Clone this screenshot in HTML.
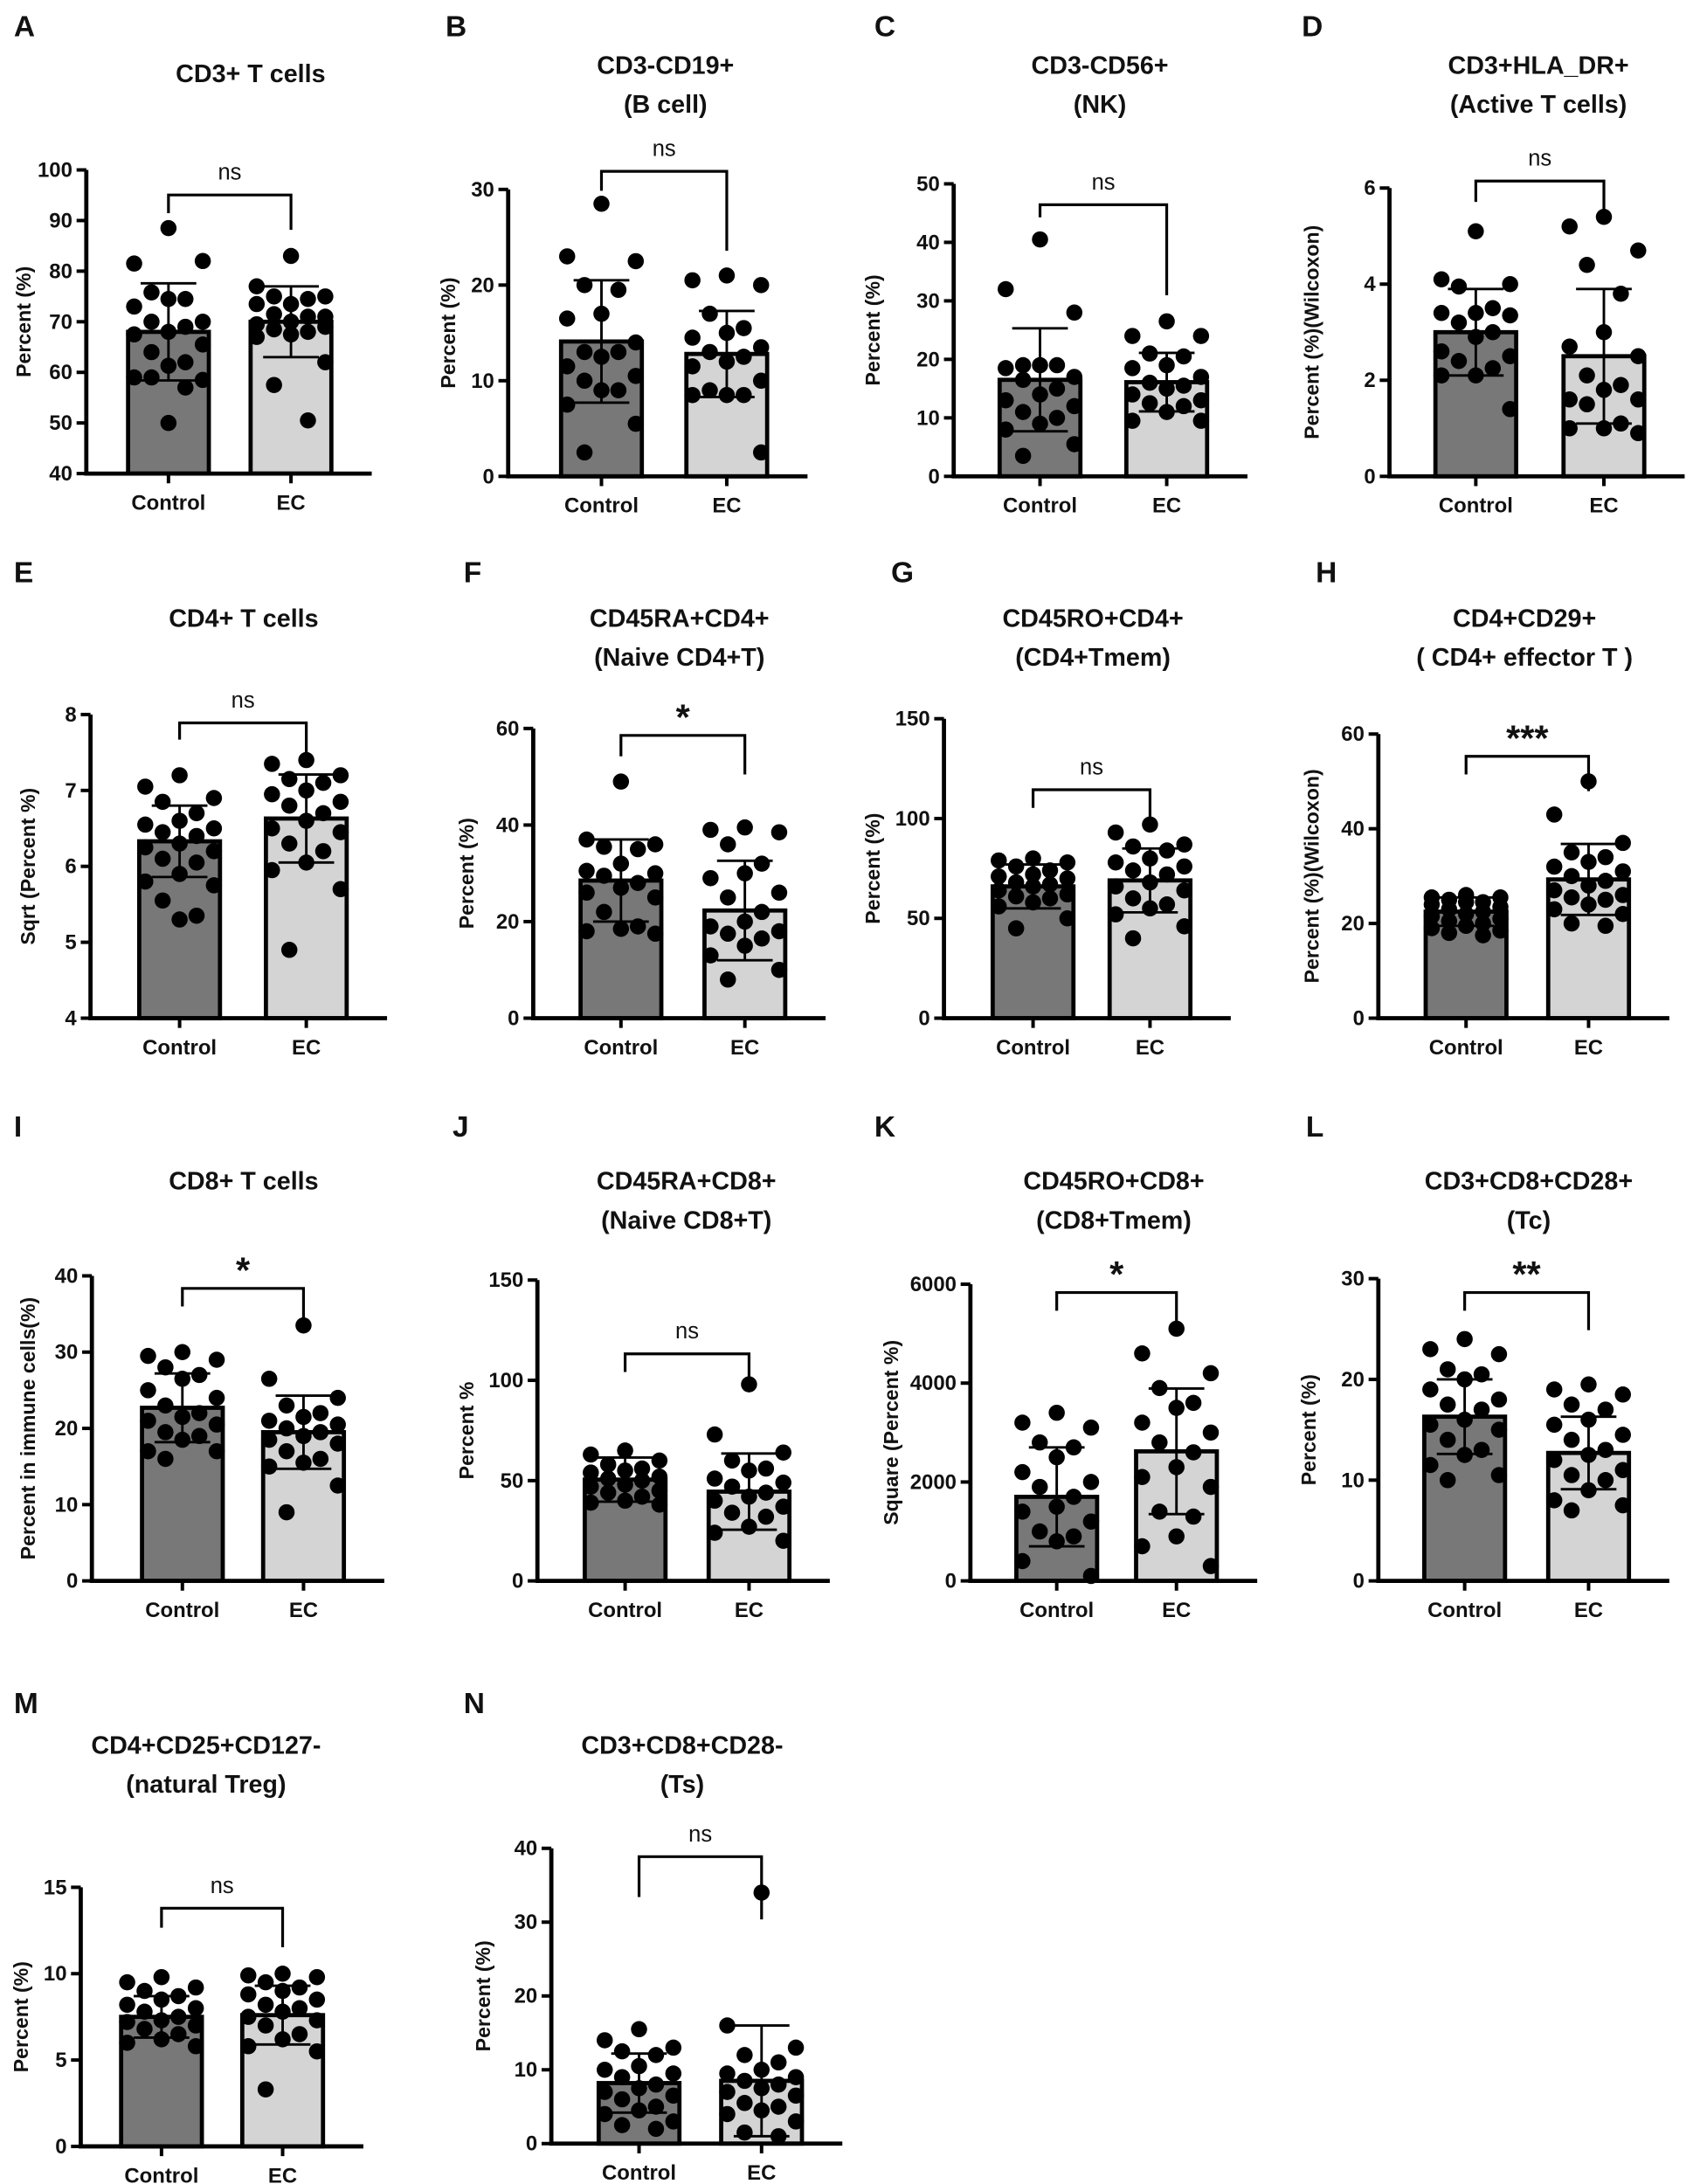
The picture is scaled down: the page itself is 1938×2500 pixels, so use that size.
<!DOCTYPE html>
<html><head><meta charset="utf-8"><style>
html,body{margin:0;padding:0;background:#fff}
svg{display:block}
text{font-family:"Liberation Sans",Arial,sans-serif;font-weight:bold;fill:#111}
</style></head><body>
<svg id="fig" xmlns="http://www.w3.org/2000/svg" width="1938" height="2500" viewBox="0 0 1216 1568" preserveAspectRatio="none"></svg>
<script>
const categories = ["Control","EC"];
// Panel A
const A_ticks=[40,50,60,70,80,90,100]; const A_means=[68,70]; const A_sds=[9.6,7];
const A_ctrl=[88.5,81.5,82,75.8,74.5,74.5,73,70,70,69,68,67.5,65.5,64,62,61.3,59,58.5,59,57,50];
const A_ec=[83,77,75,75,74.5,73.5,73.5,71,71.5,71,70,69.5,69,68.5,68,67.5,67,62,57.5,50.5];
// Panel B
const B_ticks=[0,10,20,30]; const B_means=[14.1,12.8]; const B_sds=[6.4,4.5];
const B_ctrl=[28.5,23,22.5,20,19.5,17,16.5,14,13,13,12.5,11.5,10.5,10,9,9,7.5,5.5,2.5];
const B_ec=[21,20.5,20,17,15.5,15,14.5,13.5,13,12.5,12,11.5,10,9,8.5,8.5,8.5,2.5];
// Panel C
const C_ticks=[0,10,20,30,40,50]; const C_means=[16.5,16.1]; const C_sds=[8.8,5];
const C_ctrl=[40.5,32,28,19,19,19,18.5,17,16.5,15,14,13,12,11,10,9,8,5.5,3.5];
const C_ec=[26.5,24,24,21,20.5,19,18.5,17,16,15.5,15,14,13,12.5,12,11,9.5,9.5];
// Panel D
const D_ticks=[0,2,4,6]; const D_means=[3.0,2.5]; const D_sds=[0.9,1.4];
const D_ctrl=[5.1,4.1,4.0,3.95,3.5,3.4,3.4,3.35,3.2,3.0,2.9,2.6,2.5,2.4,2.25,2.1,2.1,1.4];
const D_ec=[5.4,5.2,4.7,4.4,3.8,3.0,2.7,2.5,2.1,1.9,1.8,1.6,1.6,1.5,1.1,1.0,1.0,0.9];
// Panel E
const E_ticks=[4,5,6,7,8]; const E_means=[6.33,6.63]; const E_sds=[0.47,0.58];
const E_ctrl=[7.2,7.05,6.9,6.85,6.7,6.6,6.55,6.5,6.45,6.4,6.3,6.25,6.2,6.1,6.05,5.9,5.8,5.75,5.55,5.35,5.3];
const E_ec=[7.4,7.35,7.2,7.15,7.1,7.0,6.95,6.85,6.8,6.7,6.6,6.5,6.45,6.3,6.2,6.05,5.95,5.7,4.9];
// Panel F
const F_ticks=[0,20,40,60]; const F_means=[28.5,22.3]; const F_sds=[8.5,10.3];
const F_ctrl=[49,37,36,35.5,35,32,30.5,30,29.5,28,27,26,25,22,19,18.5,18,17.5];
const F_ec=[39.5,39,38.5,36,32,30,29,26,25,22,20,19,18,17.5,16.5,15,13,10,8];
// Panel G
const G_ticks=[0,50,100,150]; const G_means=[66,69]; const G_sds=[11,16];
const G_ctrl=[80,79,78,76,74,72,71,70,68,67,66,64,62,61,60,58,56,50,45];
const G_ec=[97,93,87,86,84,80,78,76,74,72,68,66,64,60,57,55,52,46,40];
// Panel H
const H_ticks=[0,20,40,60]; const H_means=[22.5,29.3]; const H_sds=[3,7.5];
const H_ctrl=[26,25.5,25.5,25,24.5,24.5,24,23.5,23,22.5,22,21.5,21,20.5,20,19.5,19,18.5,18,17.5];
const H_ec=[50,43,37,35,34,33,32,31,30,29,28,27,26,25.5,25,24,23,22,20,19.5];
// Panel I
const I_ticks=[0,10,20,30,40]; const I_means=[22.7,19.5]; const I_sds=[4.5,4.8];
const I_ctrl=[30,29.5,29,28,27,26.5,25,24,23,22,21.5,21,20.5,19.5,19,18.5,17,17,16];
const I_ec=[33.5,26.5,24,23,22,21.5,21,20.5,20,19.5,19,18.5,18,17,16,15.5,15,12.5,9];
// Panel J
const J_ticks=[0,50,100,150]; const J_means=[50.5,44.5]; const J_sds=[11,19];
const J_ctrl=[65,63,60,58,56,55,54,52,51,50,48,47,45,44,42,40,39,38];
const J_ec=[98,73,64,60,56,55,51,49,47,44,42,40,37,34,32,27,24,20];
// Panel K
const K_ticks=[0,2000,4000,6000]; const K_means=[1700,2620]; const K_sds=[1000,1270];
const K_ctrl=[3400,3200,3100,2800,2700,2500,2200,2000,1900,1700,1500,1400,1200,1000,900,800,400,100];
const K_ec=[5100,4600,4200,3900,3600,3500,3200,3000,2800,2600,2300,2100,1900,1400,1300,900,700,300];
// Panel L
const L_ticks=[0,10,20,30]; const L_means=[16.3,12.7]; const L_sds=[3.7,3.6];
const L_ctrl=[24,23,22.5,21,20.5,20,19,18,17.5,17,16,15.5,15,14,13,12.5,11.5,10.5,10];
const L_ec=[19.5,19,18.5,17.5,17,16,15.5,14.5,14,13,12.5,12,11,10.5,10,9,8,7.5,7];
// Panel M
const M_ticks=[0,5,10,15]; const M_means=[7.5,7.6]; const M_sds=[1.2,1.7];
const M_ctrl=[9.8,9.5,9.2,9.0,8.7,8.5,8.2,8.0,7.8,7.5,7.3,7.2,7.0,6.8,6.5,6.2,6.0,5.8];
const M_ec=[10,9.9,9.8,9.5,9.2,9,8.8,8.5,8.2,8,7.8,7.5,7.3,7,6.5,6.2,5.8,5.5,3.3];
// Panel N
const N_ticks=[0,10,20,30,40]; const N_means=[8.2,8.5]; const N_sds=[4,7.5];
const N_ctrl=[15.5,14,13,12.5,12,10.5,10,9.5,9,8,7.5,7,6.5,6,5,4.5,4,3,2.5,2];
const N_ec=[34,16,13,12,11,10,9.5,9,8.5,8,7.5,7,6.5,5.5,5,4.5,4,3,1.5,1];

const NS="http://www.w3.org/2000/svg";
const svg=document.getElementById('fig');
function mk(tag,attrs,parent,txt){const e=document.createElementNS(NS,tag);for(const k in attrs)e.setAttribute(k,attrs[k]);if(txt!==undefined)e.textContent=txt;(parent||svg).appendChild(e);return e;}

const panels=[
 {id:'A',t:A_ticks,m:A_means,s:A_sds,p:[A_ctrl,A_ec],title:['CD3+ T cells'],yt:'Percent (%)',ax:62,c0:121,c1:209,top:122,bot:340,lx:10,ly:18,tx:180,ty:52,sig:'ns',by:140,bl:153,br:165,ytx:22},
 {id:'B',t:B_ticks,m:B_means,s:B_sds,p:[B_ctrl,B_ec],title:['CD3-CD19+','(B cell)'],yt:'Percent (%)',ax:365,c0:432,c1:522,top:136,bot:342,lx:320,ly:18,tx:478,ty:46,sig:'ns',by:123,bl:137,br:180,ytx:327},
 {id:'C',t:C_ticks,m:C_means,s:C_sds,p:[C_ctrl,C_ec],title:['CD3-CD56+','(NK)'],yt:'Percent (%)',ax:685,c0:747,c1:838,top:132,bot:342,lx:628,ly:18,tx:790,ty:46,sig:'ns',by:147,bl:156,br:212,ytx:632},
 {id:'D',t:D_ticks,m:D_means,s:D_sds,p:[D_ctrl,D_ec],title:['CD3+HLA_DR+','(Active T cells)'],yt:'Percent (%)(Wilcoxon)',ax:998,c0:1060,c1:1152,top:135,bot:342,lx:935,ly:18,tx:1105,ty:46,sig:'ns',by:130,bl:145,br:160,ytx:947},
 {id:'E',t:E_ticks,m:E_means,s:E_sds,p:[E_ctrl,E_ec],title:['CD4+ T cells'],yt:'Sqrt (Percent %)',ax:65,c0:129,c1:220,top:513,bot:731,lx:10,ly:410,tx:175,ty:443,sig:'ns',by:519,bl:531,br:545,ytx:25},
 {id:'F',t:F_ticks,m:F_means,s:F_sds,p:[F_ctrl,F_ec],title:['CD45RA+CD4+','(Naive CD4+T)'],yt:'Percent (%)',ax:383,c0:446,c1:535,top:523,bot:731,lx:333,ly:410,tx:488,ty:443,sig:'*',by:528,bl:543,br:556,ytx:340},
 {id:'G',t:G_ticks,m:G_means,s:G_sds,p:[G_ctrl,G_ec],title:['CD45RO+CD4+','(CD4+Tmem)'],yt:'Percent (%)',ax:678,c0:742,c1:826,top:516,bot:731,lx:640,ly:410,tx:785,ty:443,sig:'ns',by:567,bl:580,br:590,ytx:632},
 {id:'H',t:H_ticks,m:H_means,s:H_sds,p:[H_ctrl,H_ec],title:['CD4+CD29+','( CD4+ effector T )'],yt:'Percent (%)(Wilcoxon)',ax:990,c0:1053,c1:1141,top:527,bot:731,lx:945,ly:410,tx:1095,ty:443,sig:'***',by:543,bl:556,br:568,ytx:947},
 {id:'I',t:I_ticks,m:I_means,s:I_sds,p:[I_ctrl,I_ec],title:['CD8+ T cells'],yt:'Percent in immune cells(%)',ax:66,c0:131,c1:218,top:916,bot:1135,lx:10,ly:808,tx:175,ty:847,sig:'*',by:925,bl:938,br:951,ytx:25},
 {id:'J',t:J_ticks,m:J_means,s:J_sds,p:[J_ctrl,J_ec],title:['CD45RA+CD8+','(Naive CD8+T)'],yt:'Percent %',ax:386,c0:449,c1:538,top:919,bot:1135,lx:325,ly:808,tx:493,ty:847,sig:'ns',by:972,bl:985,br:998,ytx:340},
 {id:'K',t:K_ticks,m:K_means,s:K_sds,p:[K_ctrl,K_ec],title:['CD45RO+CD8+','(CD8+Tmem)'],yt:'Square (Percent %)',ax:697,c0:759,c1:845,top:922,bot:1135,lx:628,ly:808,tx:800,ty:847,sig:'*',by:928,bl:941,br:954,ytx:645},
 {id:'L',t:L_ticks,m:L_means,s:L_sds,p:[L_ctrl,L_ec],title:['CD3+CD8+CD28+','(Tc)'],yt:'Percent (%)',ax:990,c0:1052,c1:1141,top:918,bot:1135,lx:938,ly:808,tx:1098,ty:847,sig:'**',by:928,bl:941,br:955,ytx:945},
 {id:'M',t:M_ticks,m:M_means,s:M_sds,p:[M_ctrl,M_ec],title:['CD4+CD25+CD127-','(natural Treg)'],yt:'Percent (%)',ax:58,c0:116,c1:203,top:1355,bot:1541,lx:10,ly:1222,tx:148,ty:1252,sig:'ns',by:1370,bl:1384,br:1398,ytx:20},
 {id:'N',t:N_ticks,m:N_means,s:N_sds,p:[N_ctrl,N_ec],title:['CD3+CD8+CD28-','(Ts)'],yt:'Percent (%)',ax:396,c0:459,c1:547,top:1327,bot:1539,lx:333,ly:1222,tx:490,ty:1252,sig:'ns',by:1333,bl:1362,br:1378,ytx:352}
];
const jit=[0,-0.85,0.85,-0.42,0.42];
panels.forEach(P=>{
  const g=mk('g',{});
  
  
  const lo=P.t[0],hi=P.t[P.t.length-1];
  const y=v=>P.bot-(v-lo)/(hi-lo)*(P.bot-P.top);
  const L=mk('text',{x:P.lx,y:P.ly+8,'font-size':21},g,P.id);
  
  P.title.forEach((t,i)=>{const e=mk('text',{x:P.tx,y:P.ty+i*28+7,'font-size':18,'text-anchor':'middle'},g,t);
    });
  const cs=[P.c0,P.c1],fills=['#787878','#d4d4d4'],hw=29;
  cs.forEach((c,i)=>{
    const b=mk('rect',{x:c-hw,y:y(P.m[i]),width:hw*2,height:P.bot-y(P.m[i]),fill:fills[i],stroke:'#000','stroke-width':3},g);
    
    const vals=P.p[i];
    vals.forEach((v,k)=>{
      const d=mk('circle',{cx:c+jit[k%jit.length]*hw,cy:y(v),r:5.8,fill:'#000'},g);
      
    });
    const e1=y(P.m[i]+P.s[i]),e2=y(Math.max(lo,P.m[i]-P.s[i]));
    const eb=mk('path',{d:`M${c},${e1}V${e2}M${c-20},${e1}H${c+20}M${c-20},${e2}H${c+20}`,stroke:'#000','stroke-width':1.8,fill:'none'},g);
    
    const xl=mk('text',{x:c,y:P.bot+26,'font-size':15,'text-anchor':'middle'},g,categories[i]);
    
    mk('line',{x1:c,x2:c,y1:P.bot,y2:P.bot+7,stroke:'#000','stroke-width':2.5},g);
  });
  const ax=mk('path',{d:`M${P.ax},${P.top}V${P.bot}H${P.c1+58}`,stroke:'#000','stroke-width':3,fill:'none'},g);
  
  P.t.forEach(t=>{
    mk('line',{x1:P.ax-7,x2:P.ax,y1:y(t),y2:y(t),stroke:'#000','stroke-width':2.5},g);
    const tl=mk('text',{x:P.ax-10,y:y(t)+5,'font-size':15,'text-anchor':'end'},g,t);
    
  });
  const yc=(P.top+P.bot)/2;
  const yt=mk('text',{x:P.ytx,y:yc,'font-size':14.5,'text-anchor':'middle',transform:`rotate(-90 ${P.ytx} ${yc})`},g,P.yt);
  
  const br=mk('path',{d:`M${P.c0},${P.bl}V${P.by}H${P.c1}V${P.br}`,stroke:'#000','stroke-width':2,fill:'none'},g);
  
  const star=P.sig!=='ns';
  const st=mk('text',{x:(P.c0+P.c1)/2,y:star?P.by-4:P.by-11,'font-size':star?26:16,'text-anchor':'middle'},g,P.sig);
  if(!star)st.setAttribute('style','font-weight:normal');
  
});
</script>
</body></html>
